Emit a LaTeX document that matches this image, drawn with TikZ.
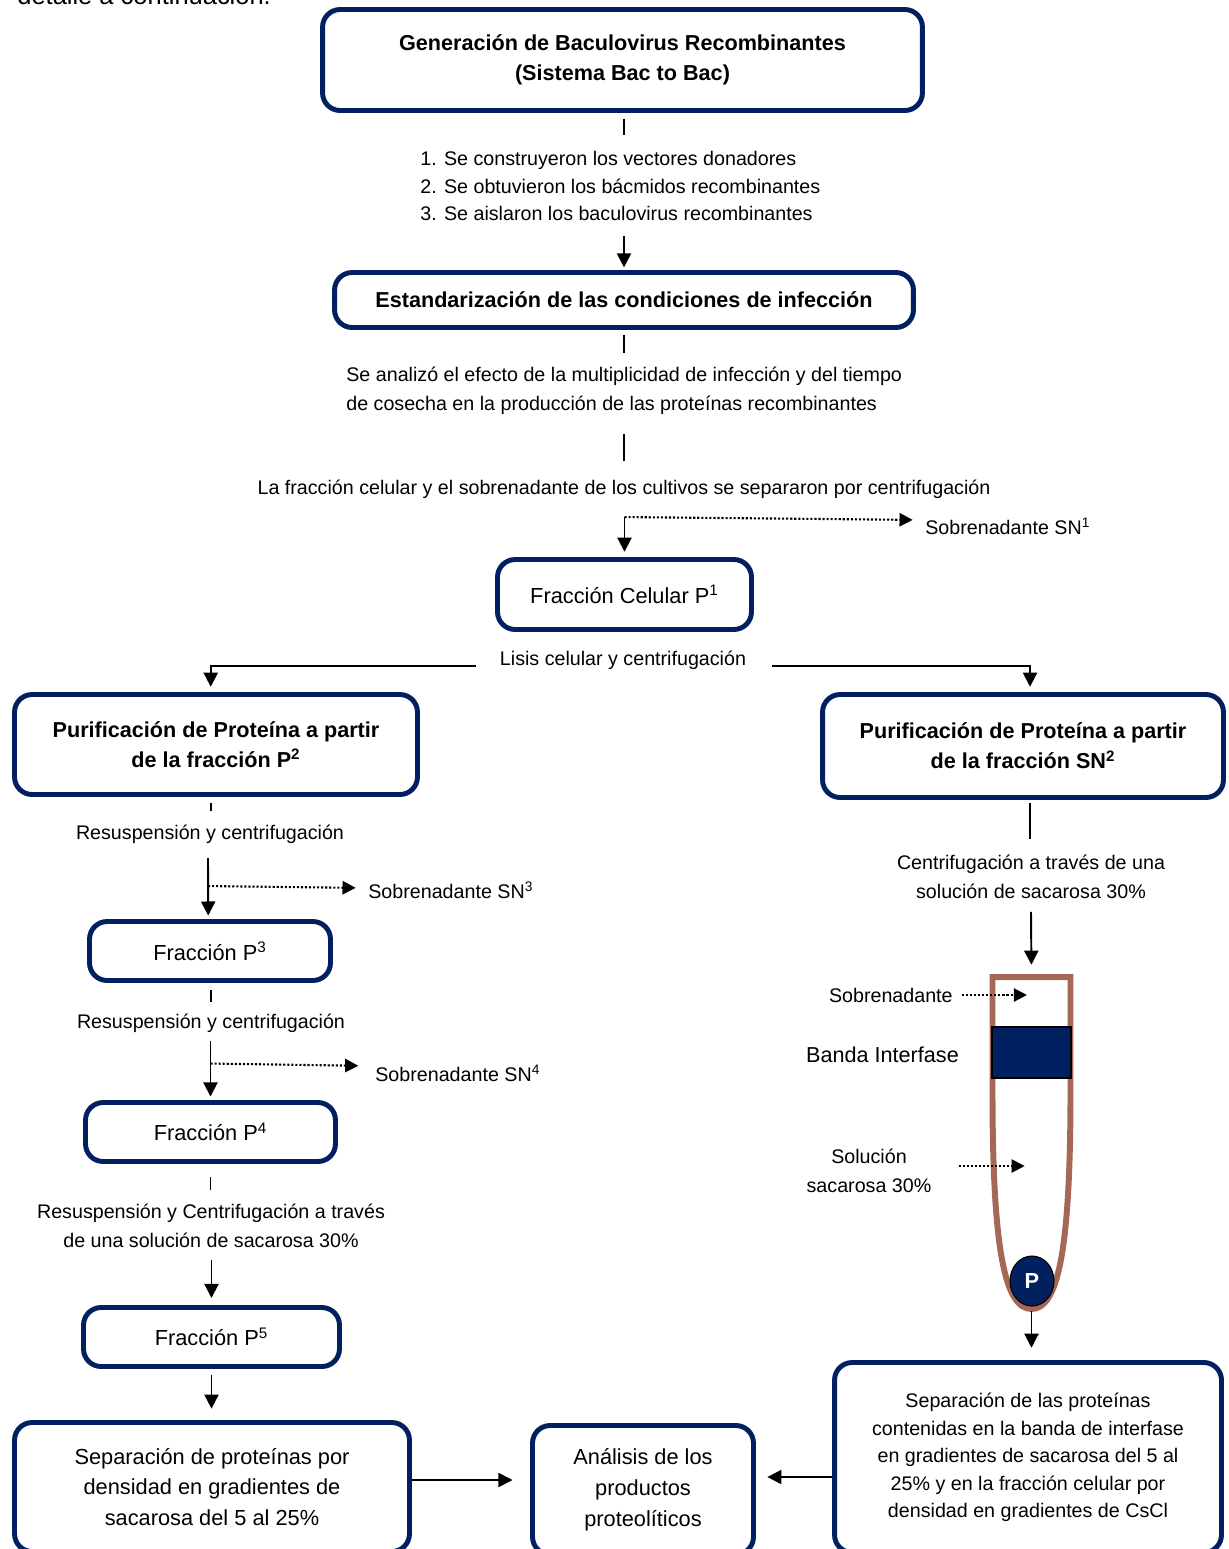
\documentclass[tikz,border=0pt]{standalone}
\usepackage{fontspec}
\setmainfont{Liberation Sans}
\usepackage{tikz}
\usetikzlibrary{
	positioning,
	arrows.meta,
	shapes.geometric
}
\definecolor{BacNavy}{RGB}{0,32,96}
\definecolor{TubeBrown}{RGB}{166,104,84}

\tikzset{
	box/.style={
		draw=BacNavy,
		line width=2.8pt,
		rounded corners=10pt,
		fill=white,
		align=center,
		inner sep=2pt,
		font=\fontsize{12.4}{17.6}\selectfont
	},
	gbox/.style={
		box,
		font=\bfseries\fontsize{12.3}{17}\selectfont
	},
	lbl/.style={
		align=center,
		inner sep=0pt,
		font=\fontsize{11.2}{16.2}\selectfont
	},
	ln/.style={line width=1.1pt},
	arr/.style={
		ln,
		-{Triangle[width=8pt,length=8pt]}
	},
	dotarr/.style={
		-{Triangle[width=7.5pt,length=7.5pt]},
		line width=1.2pt,
		dash pattern=on 1.2pt off 1.1pt
	},
	tube/.style={
		draw=TubeBrown,
		line width=3.4pt
	}
}

\begin{document}
\begin{tikzpicture}[x=0.02cm,y=-0.02cm]

	\useasboundingbox (0,0) rectangle (1228,1549);

	\node[anchor=base west, inner sep=0pt, font=\fontsize{14.5}{17}\selectfont]
		(prev) at (17,4) {detalle a continuación.};

	% tronco central
	\node[gbox, minimum width=12cm, minimum height=2.02cm]
		(gen) at (622.5,60)
		{Generación de Baculovirus Recombinantes\\(Sistema Bac to Bac)};

	\node[lbl, anchor=west, align=left, font=\fontsize{11.2}{15.9}\selectfont]
		(steps) at (420,186)
		{1. Se construyeron los vectores donadores\\
		 2. Se obtuvieron los bácmidos recombinantes\\
		 3. Se aislaron los baculovirus recombinantes};

	\node[gbox, minimum width=11.58cm, minimum height=1.1cm]
		(est) at (624,300)
		{Estandarización de las condiciones de infección};

	\node[lbl, anchor=west, align=left, font=\fontsize{11.2}{16.4}\selectfont]
		(efecto) at (346,391)
		{Se analizó el efecto de la multiplicidad de infección y del tiempo\\
		 de cosecha en la producción de las proteínas recombinantes};

	\node[lbl] (separ) at (624,489)
		{La fracción celular y el sobrenadante de los cultivos se separaron por centrifugación};

	\node[lbl, anchor=west] (sn1) at (925,526) {Sobrenadante SN\textsuperscript{1}};

	\node[box, minimum width=5.08cm, minimum height=1.4cm]
		(fcel) at (624.5,594.5) {Fracción Celular P\textsuperscript{1}};

	\node[lbl] (lisis) at (623,660) {Lisis celular y centrifugación};

	% rama P
	\node[gbox, minimum width=8.06cm, minimum height=2cm]
		(purP) at (216,744.5)
		{Purificación de Proteína a partir\\de la fracción P\textsuperscript{2}};

	\node[lbl] (res1) at (210,834) {Resuspensión y centrifugación};
	\node[lbl, anchor=west] (sn3) at (368,890) {Sobrenadante SN\textsuperscript{3}};

	\node[box, minimum width=4.82cm, minimum height=1.18cm]
		(fp3) at (210,951) {Fracción P\textsuperscript{3}};

	\node[lbl] (res2) at (211,1023) {Resuspensión y centrifugación};
	\node[lbl, anchor=west] (sn4) at (375,1073) {Sobrenadante SN\textsuperscript{4}};

	\node[box, minimum width=5cm, minimum height=1.18cm]
		(fp4) at (210.5,1132) {Fracción P\textsuperscript{4}};

	\node[lbl] (res3) at (211,1226)
		{Resuspensión y Centrifugación a través\\de una solución de sacarosa 30\%};

	\node[box, minimum width=5.12cm, minimum height=1.18cm]
		(fp5) at (211.5,1337) {Fracción P\textsuperscript{5}};

	\node[box, minimum width=7.9cm, minimum height=2.58cm]
		(sepL) at (212,1487)
		{Separación de proteínas por\\densidad en gradientes de\\sacarosa del 5 al 25\%};

	\node[box, minimum width=4.42cm, minimum height=2.58cm]
		(anal) at (643,1490)
		{Análisis de los\\productos\\proteolíticos};

	% rama SN
	\node[gbox, minimum width=8.02cm, minimum height=2.06cm]
		(purSN) at (1023,746)
		{Purificación de Proteína a partir\\de la fracción SN\textsuperscript{2}};

	\node[lbl] (cent) at (1031,877)
		{Centrifugación a través de una\\solución de sacarosa 30\%};

	\coordinate (tubetop) at (1031.5,977);
	\coordinate (tubebot) at (1031.5,1309);

	\draw[tube]
		(992.5,977) -- (992.5,1100)
		.. controls (993,1250) and (1005,1309) .. (tubebot)
		.. controls (1058,1309) and (1070,1250) .. (1070.5,1100)
		-- (1070.5,977) -- cycle;

	\node[draw=black, fill=BacNavy, line width=0.6pt, inner sep=0pt,
		minimum width=1.58cm, minimum height=1.02cm]
		(band) at (1031.5,1052.5) {};

	\node[ellipse, draw=black, fill=BacNavy, line width=0.6pt, inner sep=0pt,
		minimum width=0.88cm, minimum height=1cm,
		text=white, font=\bfseries\fontsize{12.4}{14}\selectfont]
		(pel) at (1032,1281) {P};

	\node[lbl, anchor=east] (sobre) at (953,995) {Sobrenadante};
	\node[lbl, font=\fontsize{12.3}{15}\selectfont] (bandlbl) at (882.5,1055) {Banda Interfase};
	\node[lbl] (solu) at (869,1171) {Solución\\sacarosa 30\%};

	\node[box, align=center, font=\fontsize{11.2}{15.6}\selectfont,
		minimum width=7.74cm, minimum height=3.8cm]
		(sepR) at (1028,1457.5)
		{Separación de las proteínas\\contenidas en la banda de interfase\\en gradientes de sacarosa del 5 al\\25\% y en la fracción celular por\\densidad en gradientes de CsCl};

	% conectores
	\draw[ln] (gen.south) ++(1.5,6) -- ++(0,16);
	\draw[arr, shorten >=1.5pt] (est.north) ++(0,-34) -- (est.north);
	\draw[ln] (est.south) ++(0,5) -- ++(0,18);
	\draw[ln] (separ.north) ++(0,-18) -- ++(0,-27);
	\draw[arr, shorten >=3pt] (fcel.north) ++(0,-40) -- (fcel.north);
	\draw[dotarr, shorten >=7pt] (fcel.north) ++(0,-40) -- (sn1.west |- 0,520);

	\draw[arr, shorten >=3pt] (lisis.west) ++(-24,6) -| ([xshift=-3pt]purP.north);
	\draw[arr, shorten >=3pt] (lisis.east) ++(26,6) -| ([xshift=4pt]purSN.north);

	\draw[ln] ([xshift=-3pt]purP.south) ++(0,6) -- ++(0,8);
	\draw[arr, shorten >=2pt] (fp3.north) ++(-2,-61) -- ([xshift=-1pt]fp3.north);
	\draw[dotarr, shorten >=7pt] (fp3.north) ++(-2,-33) -- (sn3.west |- 0,888);

	\draw[ln] (fp3.south) ++(1,7) -- ++(0,12);
	\draw[arr, shorten >=2pt] (fp4.north) ++(0,-59.5) -- (fp4.north);
	\draw[dotarr, shorten >=9.5pt] (fp4.north) ++(0,-36.5) -- (sn4.west |- 0,1066);

	\draw[ln] (fp4.south) ++(0,13) -- ++(0,13);
	\draw[arr, shorten >=4pt] (fp5.north) ++(0,-45.5) -- (fp5.north);
	\draw[arr, shorten >=6.5pt] (fp5.south) ++(0,6) -- (sepL.north -| fp5.south);

	\draw[arr, shorten >=10pt] (sepL.east) ++(0,-7) -- (anal.west |- 0,1480);
	\draw[arr, shorten >=6.5pt] (sepR.west |- 0,1477) -- (anal.east |- 0,1477);

	\draw[ln] ([xshift=4pt]purSN.south) ++(0,3) -- ++(0,36);
	\draw[arr, shorten >=7pt] (cent.south) ++(0,13) -- (tubetop);
	\draw[arr, shorten >=7pt] (tubebot) ++(0,2) -- (sepR.north -| tubebot);

	\draw[dotarr] (sobre.east) ++(9,0) -- ++(65,0);
	\draw[dotarr] (solu.east |- 0,1166) ++(27,0) -- ++(66,0);

\end{tikzpicture}
\end{document}
